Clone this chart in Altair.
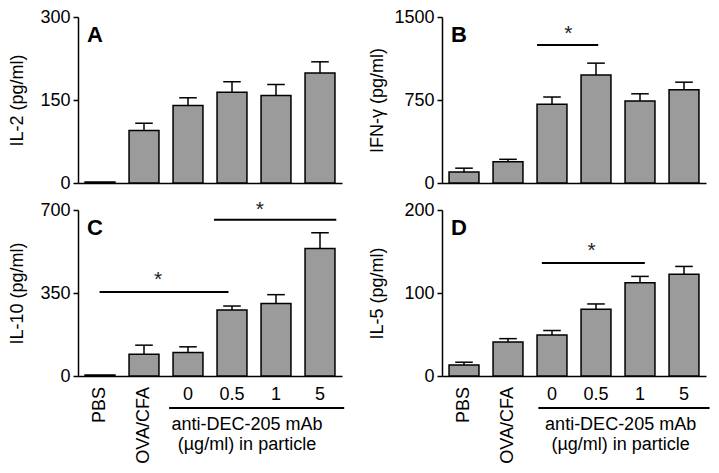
import altair as alt
import pandas as pd

FONT = "Liberation Sans"

groups = ["PBS", "OVA/CFA", "0", "0.5", "1", "5"]
positions = [1, 2, 3, 4, 5, 6]

il2_mean = [2, 95, 140, 164, 158, 199]
il2_err = [0, 13, 14, 19, 20, 20]
ifng_mean = [99, 191, 711, 977, 740, 843]
ifng_err = [35, 23, 66, 106, 66, 68]
il10_mean = [4, 92, 99, 278, 306, 538]
il10_err = [0, 38, 24, 17, 37, 66]
il5_mean = [13.4, 41, 49.4, 80.3, 112.3, 122.7]
il5_err = [3.2, 4, 5.4, 6.5, 7.7, 9.3]

# significance lines: (x start, x end, y) and stars (x, y)
sig_B = [(2.66, 4.05, 1248)]
star_B = [(3.37, 1390)]
sig_C = [(0.99, 3.92, 354), (3.59, 6.37, 659)]
star_C = [(2.32, 427), (4.63, 720)]
sig_D = [(2.77, 5.11, 136)]
star_D = [(3.9, 157)]

dose_label = ["anti-DEC-205 mAb", "(µg/ml) in particle"]

W1, W2, H = 264, 264, 166


def panel(mean, err, ymax, ytitle, letter, sig, stars, width, title_x,
          bottom=None):
    df = pd.DataFrame({"group": groups, "pos": positions,
                       "mean": mean, "err": err})
    xs = alt.Scale(domain=[0.5, 6.5], nice=False, zero=False)
    ys = alt.Scale(domain=[0, ymax], nice=False)
    xa = alt.Axis(title=None, labels=False, ticks=False, grid=False)
    ya = alt.Axis(title=ytitle, values=[0, ymax // 2, ymax], grid=False,
                  format="d", titleX=title_x, titleY=H / 2,
                  titleBaseline="bottom", titleAngle=270)

    base = alt.Chart(df).transform_calculate(
        x1="datum.pos - 0.34", x2="datum.pos + 0.34",
        c1="datum.pos - 0.2", c2="datum.pos + 0.2",
        top="datum.mean + datum.err")
    bars = base.mark_bar(color="#9b9b9b", stroke="black",
                         strokeWidth=1.5).encode(
        x=alt.X("x1:Q", scale=xs, axis=xa), x2="x2:Q",
        y=alt.Y("mean:Q", scale=ys, axis=ya), y2=alt.datum(0))
    stems = base.transform_filter("datum.err > 0").mark_rule(
        color="black", strokeWidth=1.5).encode(
        x=alt.X("pos:Q", scale=xs, axis=xa),
        y=alt.Y("mean:Q", scale=ys, axis=ya), y2="top:Q")
    caps = base.transform_filter("datum.err > 0").mark_rule(
        color="black", strokeWidth=1.5).encode(
        x=alt.X("c1:Q", scale=xs, axis=xa), x2="c2:Q",
        y=alt.Y("top:Q", scale=ys, axis=ya))
    layers = [bars, stems, caps]

    if sig:
        sdf = pd.DataFrame(sig, columns=["sx1", "sx2", "sy"])
        layers.append(alt.Chart(sdf).mark_rule(
            color="black", strokeWidth=2).encode(
            x=alt.X("sx1:Q", scale=xs, axis=xa), x2="sx2:Q",
            y=alt.Y("sy:Q", scale=ys, axis=ya)))
        tdf = pd.DataFrame(stars, columns=["tx", "ty"])
        layers.append(alt.Chart(tdf).mark_text(
            text="*", fontSize=21, baseline="alphabetic", dy=11,
            color="#222").encode(
            x=alt.X("tx:Q", scale=xs, axis=xa),
            y=alt.Y("ty:Q", scale=ys, axis=ya)))

    ldf = pd.DataFrame({"letter": [letter]})
    layers.append(alt.Chart(ldf).mark_text(
        fontSize=22, fontWeight="bold", align="left",
        baseline="alphabetic").encode(
        text="letter:N", x=alt.value(9), y=alt.value(25)))

    if bottom is not None:
        line_x1, line_x2, text_x = bottom
        rdf = df.iloc[:2]
        layers.append(alt.Chart(rdf).mark_text(
            angle=270, align="right", baseline="middle",
            fontSize=18).encode(
            x=alt.X("pos:Q", scale=xs, axis=xa), y=alt.value(H + 11),
            text="group:N"))
        ndf = df.iloc[2:]
        layers.append(alt.Chart(ndf).mark_text(
            align="center", baseline="middle", fontSize=18).encode(
            x=alt.X("pos:Q", scale=xs, axis=xa), y=alt.value(H + 19),
            text="group:N"))
        gdf = pd.DataFrame({"gx1": [line_x1], "gx2": [line_x2]})
        layers.append(alt.Chart(gdf).mark_rule(
            color="black", strokeWidth=2).encode(
            x=alt.X("gx1:Q", scale=xs, axis=xa), x2="gx2:Q",
            y=alt.value(H + 32)))
        lab = pd.DataFrame({"lx": [text_x], "txt": ["\n".join(dose_label)]})
        layers.append(alt.Chart(lab).mark_text(
            align="center", baseline="top", fontSize=18, lineBreak="\n",
            lineHeight=20).encode(
            x=alt.X("lx:Q", scale=xs, axis=xa), y=alt.value(H + 40),
            text="txt:N"))

    return alt.layer(*layers).properties(width=width, height=H)


A = panel(il2_mean, il2_err, 300, "IL-2 (pg/ml)", "A", None, None, W1, -52)
B = panel(ifng_mean, ifng_err, 1500, "IFN-γ (pg/ml)", "B", sig_B, star_B,
          W2, -56)
C = panel(il10_mean, il10_err, 700, "IL-10 (pg/ml)", "C", sig_C, star_C,
          W1, -52, bottom=(2.57, 6.55, 4.34))
D = panel(il5_mean, il5_err, 200, "IL-5 (pg/ml)", "D", sig_D, star_D,
          W2, -56, bottom=(2.69, 6.58, 4.56))

chart = alt.concat(
    A, B, C, D, columns=2,
    spacing=alt.RowColnumber(row=27, column=100),
    bounds="flush",
).properties(padding=0).configure_view(stroke=None).configure_axis(
    labelFont=FONT, titleFont=FONT, labelFontSize=18, titleFontSize=18,
    titleFontWeight="normal", labelColor="black", titleColor="black",
    tickColor="black", domainColor="black", tickWidth=1.5, domainWidth=1.5,
    tickSize=5, labelPadding=3, grid=False,
).configure_text(font=FONT, color="black")

chart.save("out.html", embed_options={"renderer": "svg", "actions": False})
